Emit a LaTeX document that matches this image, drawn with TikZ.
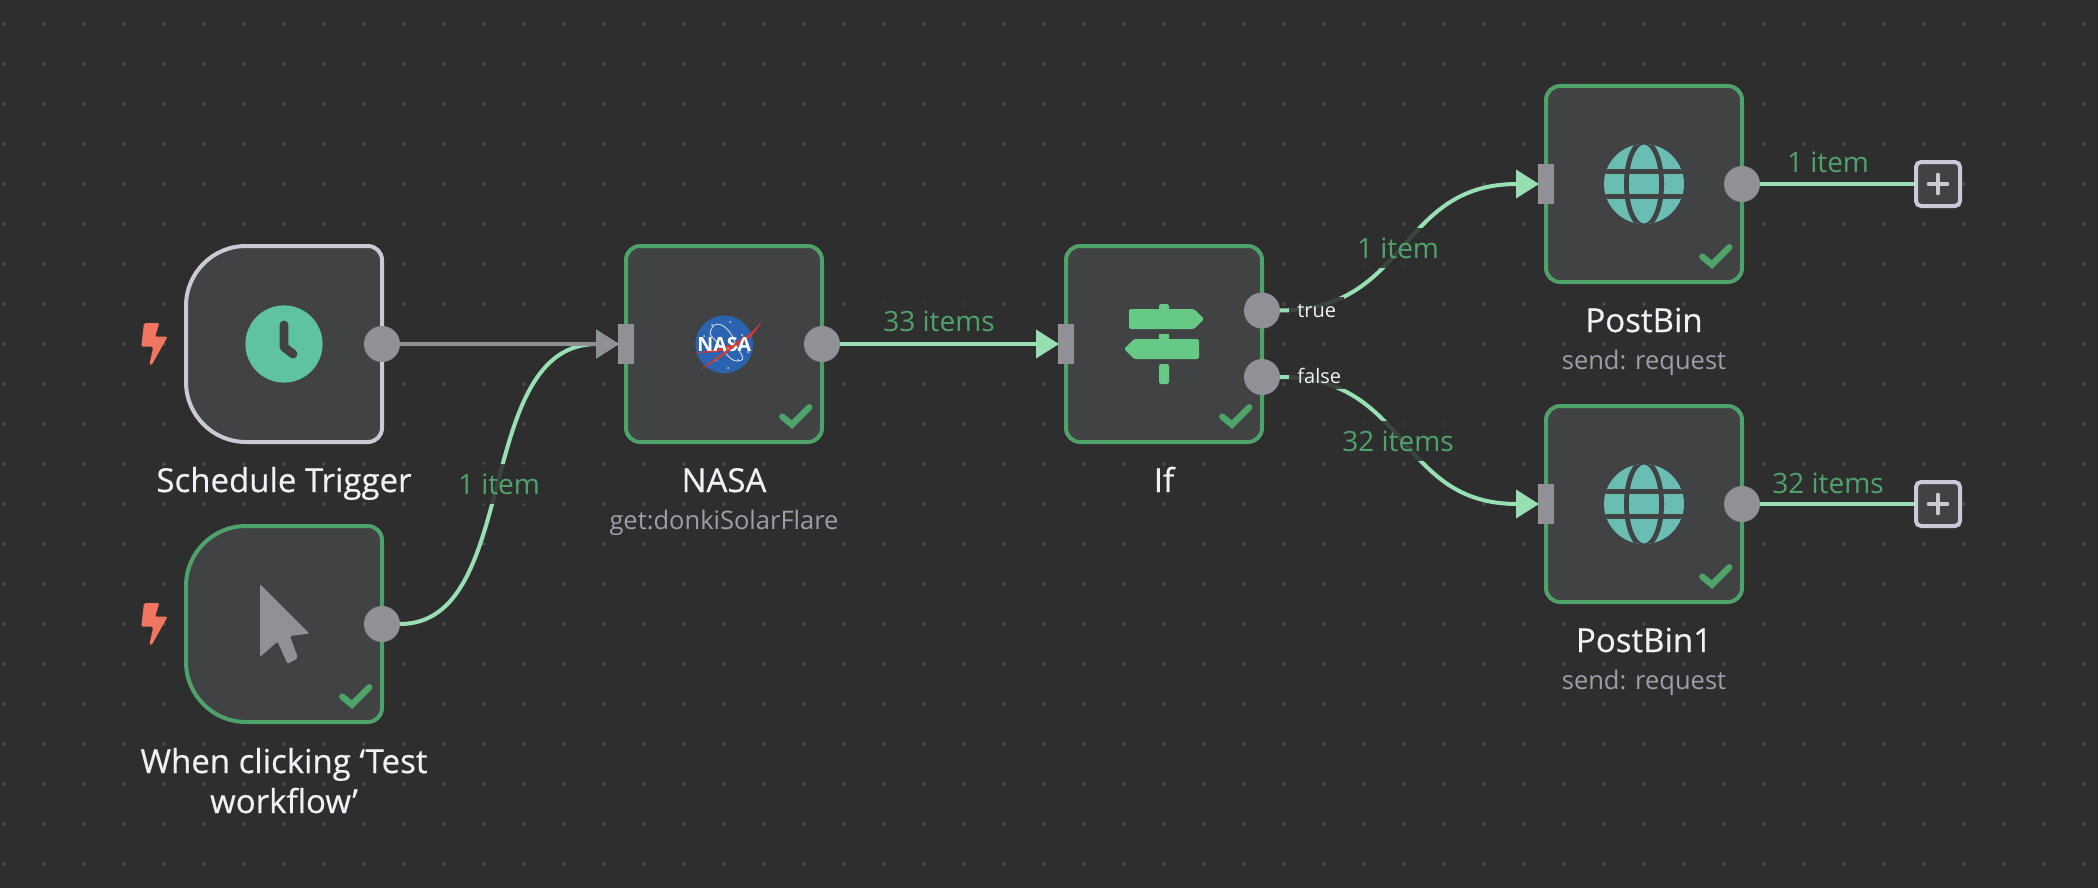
\documentclass[tikz,border=0pt]{standalone}
\usepackage{fontspec}
\setmainfont{Open Sans}
\newfontfamily\nodenamefont[FakeBold=0.5]{Open Sans}
\usetikzlibrary{positioning, arrows.meta}
\definecolor{canvas}{HTML}{2E2E2E}
\definecolor{griddot}{HTML}{525252}
\definecolor{boxfill}{HTML}{414244}
\definecolor{okgreen}{HTML}{4FA36A}
\definecolor{linegreen}{HTML}{98E0B4}
\definecolor{portgrey}{HTML}{909196}
\definecolor{paleline}{HTML}{C8CAD6}
\definecolor{nametext}{HTML}{F0F1F5}
\definecolor{subtext}{HTML}{9C9EA8}
\definecolor{boltred}{HTML}{F2765F}
\definecolor{clockgreen}{HTML}{5FC2A0}
\definecolor{signgreen}{HTML}{66C985}
\definecolor{globeteal}{HTML}{69BDB3}
\definecolor{nasablue}{HTML}{2B63B0}
\definecolor{nasared}{HTML}{D13B34}
\newcommand{\triggeroutline}[2]{%
  \draw[triggerline, draw=#2] (#1.north) -- ([xshift=-7pt]#1.north east) arc[start angle=90,end angle=0,radius=7pt]
    -- ([yshift=7pt]#1.south east) arc[start angle=0,end angle=-90,radius=7pt]
    -- ([xshift=30pt]#1.south west) arc[start angle=270,end angle=180,radius=30pt]
    -- ([yshift=-30pt]#1.north west) arc[start angle=180,end angle=90,radius=30pt] -- cycle;}
\tikzset{
  actionbox/.style={draw=okgreen, fill=boxfill, line width=2pt, rounded corners=7pt, minimum size=98pt, inner sep=0pt, outer sep=0pt},
  triggerbase/.style={minimum size=98pt, inner sep=0pt, outer sep=0pt},
  triggerline/.style={fill=boxfill, line width=2pt},
  outport/.style={circle, fill=portgrey, minimum size=18pt, inner sep=0pt, outer sep=0pt},
  inport/.style={rectangle, fill=portgrey, minimum width=8pt, minimum height=20pt, inner sep=0pt, outer sep=0pt},
  addbox/.style={draw=paleline, fill=boxfill, line width=2pt, rounded corners=2.5pt, minimum size=22pt, inner sep=0pt},
  wire/.style={draw=linegreen, line width=2pt, shorten >=-.5pt, -{Triangle[length=11.5pt,width=14pt]}},
  stub/.style={draw=linegreen, line width=2pt},
  namelabel/.style={text=nametext, font=\nodenamefont\fontsize{16.5}{20}\selectfont, align=center, inner sep=0pt, anchor=base},
  sublabel/.style={text=subtext, font=\fontsize{12.75}{16}\selectfont, inner sep=0pt},
  countlabel/.style={text=okgreen, font=\fontsize{14}{16}\selectfont, fill=canvas, fill opacity=.87, text opacity=1, inner xsep=1pt, inner ysep=0pt, minimum height=20pt},
  branchlabel/.style={text=nametext, font=\fontsize{10}{12}\selectfont, fill=canvas, fill opacity=.87, text opacity=1, inner xsep=4pt, inner ysep=1pt, minimum height=14pt, anchor=base west},
  bolt/.pic={\fill[boltred, rounded corners=.8pt] (-10,-21) -- (5.5,-21) -- (1,-7.5) -- (13.7,-7.5) -- (-2.3,21) -- (-4.7,21) -- (-.7,2.7) -- (-12.7,2.7) -- cycle;},
  okmark/.pic={\draw[okgreen, line width=3.2pt, line cap=round] (58.3,72.7) -- (68,80.7) -- (85.3,63.3);},
  globe/.pic={
    \begin{scope}
    \clip (0,0) circle (20pt);
    \fill[globeteal] (0,0) circle (20pt);
    \draw[boxfill, line width=2.4pt] (0,0) ellipse (8.8pt and 21pt);
    \fill[boxfill] (-40,-15) rectangle (40,-10);
    \fill[boxfill] (-40,10) rectangle (40,15);
    \end{scope}
  },
  plusmark/.pic={\draw[paleline, line width=2.3pt, line cap=round] (-9,0) -- (9,0) (0,-9) -- (0,9);},
}
\begin{document}
\begin{tikzpicture}[x=0.5pt,y=-0.5pt]
\useasboundingbox (0,0) rectangle (2098,888);
\fill[canvas] (0,0) rectangle (2098,888);
% Dots
\foreach \x in {4,44,...,2084}
  \foreach \y in {24,64,...,864}
    \fill[griddot] (\x,\y) circle (.9pt);
% Triggers
\node[triggerbase] (sched) at (284,344) {};
\triggeroutline{sched}{paleline}
\node[triggerbase] (manual) at (284,624) {};
\triggeroutline{manual}{okgreen}
\pic at (154,344) {bolt};
\pic at (154,624) {bolt};
% Boxes
\node[actionbox] (nasa) at (724,344) {};
\node[actionbox] (cond) at (1164,344) {};
\node[actionbox] (bin) at (1644,184) {};
\node[actionbox] (binone) at (1644,504) {};
\foreach \n in {manual,nasa,cond,bin,binone}
  \pic at (\n.center) {okmark};
% Clock
\fill[clockgreen] (284,344) circle (19.3pt);
\draw[boxfill, line width=4.4pt, line cap=round, line join=round] (284,325) -- (284,347) -- (293,354);
% Cursor
\fill[portgrey, rounded corners=1pt] (260,584) -- (309.5,633.5) -- (290,636) -- (298,658) -- (287.5,664) -- (277.5,641.5) -- (260,657) -- cycle;
% NASA logo
\fill[nasablue] (724.3,344.3) circle (14.4pt);
\foreach \a/\b in {712/325,730/322,742/335,704/336,716/360,738/360,728/368,748/352}
  \fill[white!75!nasablue] (\a,\b) circle (.5pt);
\draw[white!70!nasablue, line width=.5pt] (712,328) .. controls (716,320) and (728,325) .. (734,340) .. controls (740,355) and (748,360) .. (738,361) .. controls (728,362) and (722,345) .. (713,338) .. controls (709,335) and (710,331) .. (712,328);
\fill[nasared] (693.5,352.5) .. controls (720,351) and (748,342) .. (762,320) .. controls (750,348) and (722,354) .. (693.5,352.5) -- cycle;
\node[text=white, font=\fontsize{9.8}{10}\bfseries\selectfont, inner sep=0pt] (nasamark) at (724.3,344.3) {NASA};
\fill[nasared] (700,370) .. controls (715,358) and (735,345) .. (745,335) .. controls (737,347) and (718,360) .. (700,370) -- cycle;
% If signpost
\begin{scope}[shift={(1164,344)}]
  \fill[signgreen, rounded corners=.8pt] (-35,-35) -- (30,-35) -- (40,-25) -- (30,-15) -- (-35,-15) -- cycle;
  \fill[signgreen, rounded corners=.8pt] (35,-5) -- (-30,-5) -- (-40,5) -- (-30,15) -- (35,15) -- cycle;
  \fill[signgreen, rounded corners=.8pt] (-5,-40) rectangle (5,-33);
  \fill[signgreen] (-5,-10) rectangle (5,-5);
  \fill[signgreen, rounded corners=.8pt] (-5,20) rectangle (5,40);
\end{scope}
% Globes
\pic at (bin.center) {globe};
\pic at (binone.center) {globe};
% Ports
\node[outport] (sched-out) at (sched.east) {};
\node[outport] (manual-out) at (manual.east) {};
\node[inport] (nasa-in) at (nasa.west) {};
\node[outport] (nasa-out) at (nasa.east) {};
\node[inport] (cond-in) at (cond.west) {};
\node[outport] (cond-true) at (1262,310.5) {};
\node[outport] (cond-false) at (1262,377) {};
\node[inport] (bin-in) at (bin.west) {};
\node[outport] (bin-out) at (bin.east) {};
\node[inport] (binone-in) at (binone.west) {};
\node[outport] (binone-out) at (binone.east) {};
\node[addbox] (bin-add) at (1938,184) {};
\node[addbox] (binone-add) at (1938,504) {};
\pic at (bin-add) {plusmark};
\pic at (binone-add) {plusmark};
% Connectors
\draw[wire] (manual-out.east) .. controls (522,624) and (472,344) .. (nasa-in.west);
\draw[wire, draw=portgrey] (sched-out.east) -- (nasa-in.west);
\draw[wire] (nasa-out.east) -- (cond-in.west);
\draw[wire] (cond-true.east) .. controls (1410,310) and (1397,184) .. (bin-in.west);
\draw[wire] (cond-false.east) .. controls (1410,377) and (1397,504) .. (binone-in.west);
\draw[stub] (bin-out.east) -- (bin-add.west);
\draw[stub] (binone-out.east) -- (binone-add.west);
% Counts
\node[countlabel] (count-manual) at (499,484) {1 item};
\node[countlabel] (count-nasa) at (939,321) {33 items};
\node[countlabel] (count-true) at (1398,248) {1 item};
\node[countlabel] (count-false) at (1398,441) {32 items};
\node[countlabel, fill=none] (count-bin) at (1828,162) {1 item};
\node[countlabel, fill=none] (count-binone) at (1828,483) {32 items};
\node[branchlabel] (label-true) at (1289,317) {true};
\node[branchlabel] (label-false) at (1289,383) {false};
% Names
\node[namelabel] (sched-name) at (284,492) {Schedule Trigger};
\node[namelabel] (manual-name) at (284,813) {When clicking ‘Test\\workflow’};
\node[namelabel] (nasa-name) at (724,492) {NASA};
\node[sublabel] (nasa-sub) at (724,523) {get:donkiSolarFlare};
\node[namelabel] (cond-name) at (1164,492) {If};
\node[namelabel] (bin-name) at (1644,332) {PostBin};
\node[sublabel] (bin-sub) at (1644,363) {send: request};
\node[namelabel] (binone-name) at (1644,652) {PostBin1};
\node[sublabel] (binone-sub) at (1644,683) {send: request};
\end{tikzpicture}
\end{document}
